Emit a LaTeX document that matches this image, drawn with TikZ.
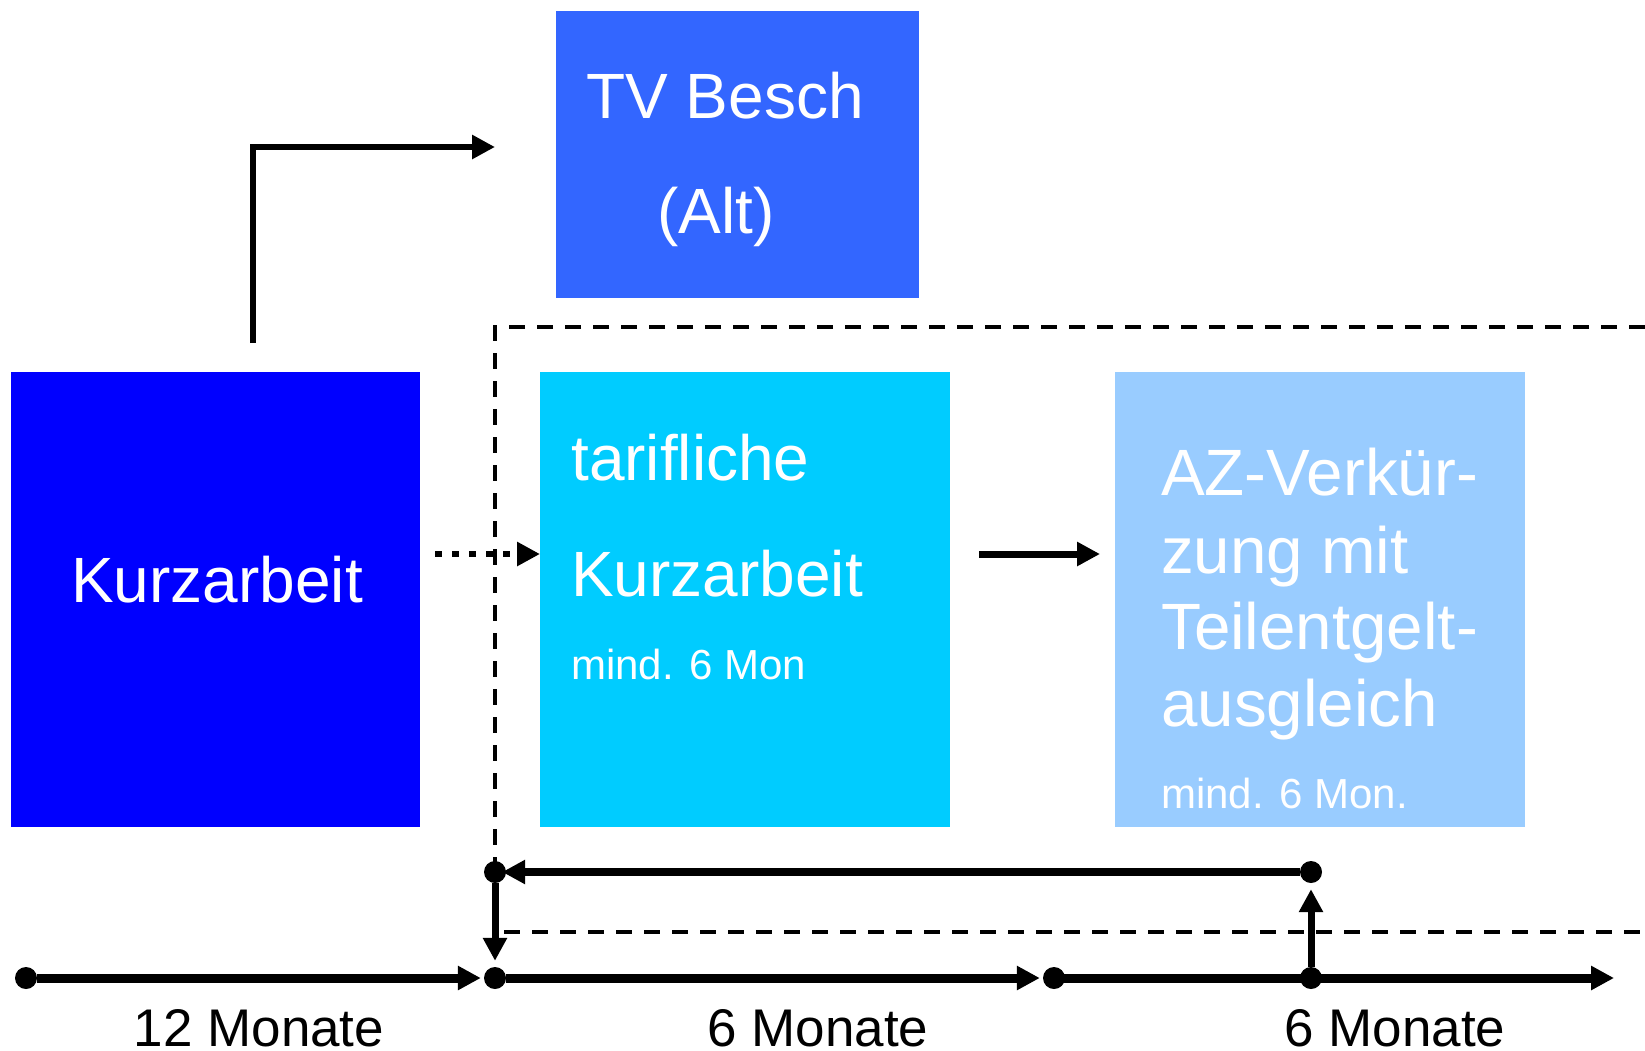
\documentclass[tikz,border=0pt]{standalone}
\usepackage{fontspec}
\setmainfont{Liberation Sans}
\usetikzlibrary{arrows.meta}
\definecolor{cTV}{HTML}{3366FF}
\definecolor{cKA}{HTML}{0000FF}
\definecolor{cTK}{HTML}{00CCFF}
\definecolor{cAZ}{HTML}{99CCFF}
\begin{document}
\begin{tikzpicture}[x=1pt,y=-1pt,
  box/.style={draw=none, inner sep=0pt, anchor=north west},
  bigtext/.style={text=white, font=\fontsize{64}{64}\selectfont, inner sep=0pt},
  aztext/.style={text=white, font=\fontsize{65.5}{65.5}\selectfont, inner sep=0pt},
  smalltext/.style={text=white, font=\fontsize{42}{42}\selectfont, inner sep=0pt},
  tltext/.style={text=black, font=\fontsize{53}{53}\selectfont, inner sep=0pt, anchor=base},
  dotnode/.style={circle, fill=black, minimum size=22pt, inner sep=0pt},
  tip/.style={-{Triangle[length=23pt,width=23pt]}},
  tlline/.style={line width=9pt},
  brline/.style={line width=8pt},
  vline/.style={line width=7pt},
  frame/.style={line width=4pt, dash pattern=on 16pt off 12pt},
  dotline/.style={line width=6.5pt, dash pattern=on 7pt off 10pt}
]
\useasboundingbox (0,0) rectangle (1645,1050);

% boxes
\node[box, fill=cTV, minimum width=363pt, minimum height=287pt] (tv) at (556,10.5) {};
\node[box, fill=cKA, minimum width=409.5pt, minimum height=455pt] (ka) at (10.5,372) {};
\node[box, fill=cTK, minimum width=409.5pt, minimum height=455pt] (tk) at (540,372) {};
\node[box, fill=cAZ, minimum width=409.5pt, minimum height=455pt] (az) at (1115,372) {};

% texts
\node[bigtext, anchor=base] (tv1) at (725,118.5) {TV Besch};
\node[bigtext, anchor=base] (tv2) at (716,233) {(Alt)};
\node[bigtext, anchor=base] (ka1) at (217,602) {Kurzarbeit};
\node[bigtext, anchor=base west] (tk1) at (571,480.5) {tarifliche};
\node[bigtext, anchor=base west] (tk2) at (571,596) {Kurzarbeit};
\node[smalltext, anchor=base west] (tk3) at (571,679) {mind. 6 Mon};
\node[aztext, anchor=base west] (az1) at (1161,495) {AZ-Verkür-};
\node[aztext, anchor=base west] (az2) at (1161,573) {zung mit};
\node[aztext, anchor=base west] (az3) at (1161,649) {Teilentgelt-};
\node[aztext, anchor=base west] (az4) at (1161,726) {ausgleich};
\node[smalltext, anchor=base west] (az5) at (1161,808) {mind. 6 Mon.};

% dashed frame
\coordinate (f0) at (1645,327);
\coordinate (f1) at (495,932);
\coordinate (f2) at (1645,932);
\draw[frame] (f0) -| (f1) -- (f2);

% elbow arrow to TV Besch
\coordinate (e0) at (253,343);
\coordinate (e1) at (495,147);
\draw[line width=6.5pt, tip] (e0) |- (e1);

% dotted arrow
\coordinate (d0) at (435,554);
\draw[dotline, tip] (d0) -- (tk.west |- d0);

% solid arrow between boxes
\coordinate (s0) at (979,554);
\coordinate (s1) at (1100,554);
\draw[line width=7pt, tip] (s0) -- (s1);

% timeline
\node[dotnode] (t0) at (26,978) {};
\node[dotnode] (t1) at (495,978) {};
\node[dotnode] (t2) at (1054,978) {};
\coordinate (tend) at (1614,978);
\draw[tlline, tip, shorten >=3pt] (t0) -- (t1);
\draw[tlline, tip, shorten >=3pt] (t1) -- (t2);
\draw[tlline, tip] (t2.center) -- (tend);
\node[dotnode] (tm) at (1311,978) {};

% bracket
\node[dotnode] (b1) at (1311,872) {};
\node[dotnode] (b0) at (495,872) {};
\draw[brline, tip, shorten >=-4pt] (b1) -- (b0);
\draw[vline, tip, shorten >=6pt] (b0) -- (t1);
\draw[vline, tip, shorten >=6pt] (tm) -- (b1);

% timeline labels
\node[tltext] (l1) at (259,1046) {12 Monate};
\node[tltext] (l2) at (818,1046) {6 Monate};
\node[tltext] (l3) at (1395,1046) {6 Monate};
\end{tikzpicture}
\end{document}
